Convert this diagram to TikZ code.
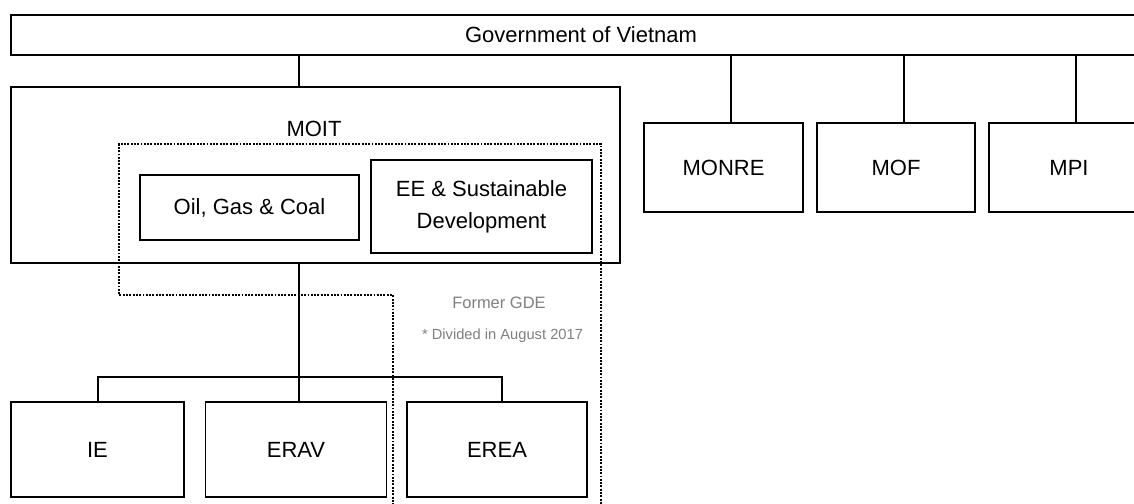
\documentclass[tikz,border=0pt]{standalone}
\usepackage{fontspec}
\setmainfont{Liberation Sans}
\begin{document}
\begin{tikzpicture}[x=1pt,y=-1pt,
  box/.style={draw, line width=1.9pt, inner sep=0pt, font=\fontsize{22}{32}\selectfont, align=center},
  conn/.style={line width=1.9pt},
  dotline/.style={line width=1.9pt, dash pattern=on 1.9pt off 1.4pt},
  note/.style={text=black!50, inner sep=0pt}]
\clip (0,0) rectangle (1134,503);
\fill[white] (0,0) rectangle (1134,503);
% top
\node[box, minimum width=1140pt, minimum height=40pt] (gov) at (581,35) {Government of Vietnam};
% MOIT
\node[box, minimum width=609pt, minimum height=176pt] (moit) at (315.5,175) {};
\node[inner sep=0pt, font=\fontsize{22}{26}\selectfont] (moitlabel) at (314,129) {MOIT};
\node[box, minimum width=219pt, minimum height=65pt] (oil) at (249.5,207.5) {Oil, Gas \& Coal};
\node[box, minimum width=221pt, minimum height=93pt] (ee) at (481.5,206.5) {EE \& Sustainable\\Development};
% ministries
\node[box, minimum width=159pt, minimum height=89pt] (monre) at (723.5,167.5) {MONRE};
\node[box, minimum width=158pt, minimum height=89pt] (mof) at (896,167.5) {MOF};
\node[box, minimum width=160pt, minimum height=89pt] (mpi) at (1069,167.5) {MPI};
% bottom
\node[box, minimum width=173pt, minimum height=95pt] (ie) at (97.5,449.5) {IE};
\node[box, minimum width=181pt, minimum height=95pt] (erav) at (296,449.5) {ERAV};
\node[box, minimum width=180pt, minimum height=95pt] (erea) at (497,449.5) {EREA};
% notes
\node[note, font=\fontsize{16.5}{19}\selectfont] (gde) at (499,303) {Former GDE};
\node[note, font=\fontsize{14.7}{17}\selectfont] (div) at (502.5,335.5) {* Divided in August 2017};
% dotted region
\coordinate (d1) at (393,515);
\coordinate (d2) at (393,295);
\coordinate (d3) at (119,295);
\coordinate (d4) at (119,144);
\coordinate (d5) at (601,144);
\coordinate (d6) at (601,515);
\draw[dotline] (d1) -- (d2) -- (d3) -- (d4) -- (d5) -- (d6);
% connectors
\draw[conn] ([xshift=-16.5pt]moit.north) -- ([xshift=-16.5pt]moit.north |- gov.south);
\draw[conn] ([xshift=7.5pt]monre.north) -- ([xshift=7.5pt]monre.north |- gov.south);
\draw[conn] ([xshift=8pt]mof.north) -- ([xshift=8pt]mof.north |- gov.south);
\draw[conn] ([xshift=7pt]mpi.north) -- ([xshift=7pt]mpi.north |- gov.south);
\coordinate (bus) at (299,377);
\draw[conn] ([xshift=-16.5pt]moit.south) -- ([xshift=-16.5pt]moit.south |- erav.north);
\draw[conn] ([xshift=0.5pt]ie.north) -- ([xshift=0.5pt]ie.north |- bus) -- ([xshift=5pt]erea.north |- bus) -- ([xshift=5pt]erea.north);
\end{tikzpicture}
\end{document}
